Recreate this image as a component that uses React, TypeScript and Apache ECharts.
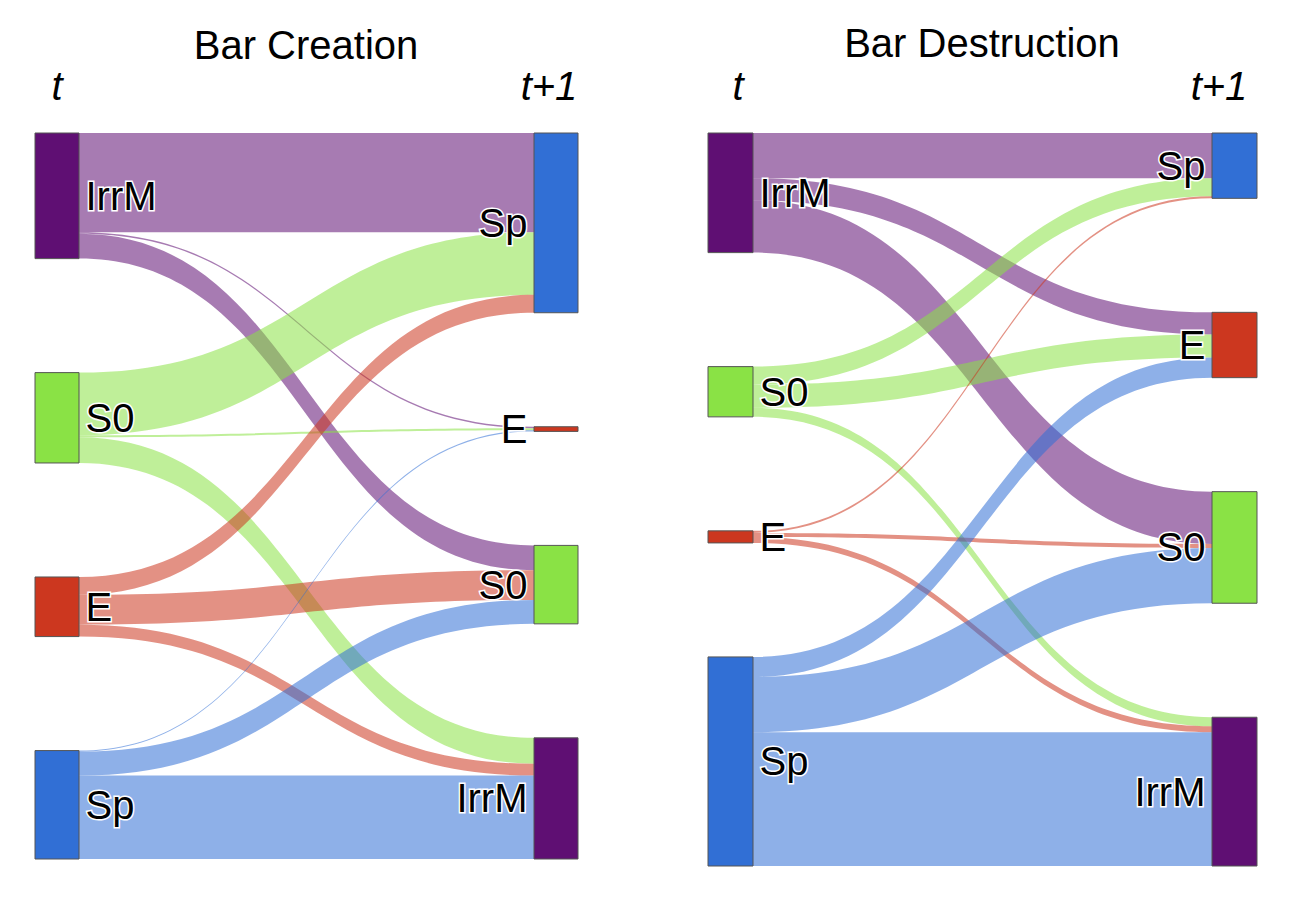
import React, { useEffect, useRef } from 'react';
import * as echarts from 'echarts';

// States in column order (top to bottom)
const statesT = ['IrrM', 'S0', 'E', 'Sp'];
const statesT1 = ['Sp', 'E', 'S0', 'IrrM'];

const stateColors: Record<string, string> = {
  IrrM: '#5f0f73',
  S0: '#8ae245',
  E: '#cc371f',
  Sp: '#316fd5',
};

// [from state at t, to state at t+1, flow]
const creationFlows: [string, string, number][] = [
  ['IrrM', 'Sp', 100], ['IrrM', 'E', 1.5], ['IrrM', 'S0', 25],
  ['S0', 'Sp', 63], ['S0', 'E', 2], ['S0', 'IrrM', 26],
  ['E', 'Sp', 18], ['E', 'S0', 30], ['E', 'IrrM', 12],
  ['Sp', 'E', 1.2], ['Sp', 'S0', 24], ['Sp', 'IrrM', 84],
];

const destructionFlows: [string, string, number][] = [
  ['IrrM', 'Sp', 45], ['IrrM', 'E', 22], ['IrrM', 'S0', 52],
  ['S0', 'Sp', 18], ['S0', 'E', 23], ['S0', 'IrrM', 9],
  ['E', 'Sp', 2], ['E', 'S0', 4], ['E', 'IrrM', 6],
  ['Sp', 'E', 20], ['Sp', 'S0', 55], ['Sp', 'IrrM', 133],
];

const titles = ['Bar Creation', 'Bar Destruction'];
const timeLabels = ['t', 't+1'];

const FONT = '"Liberation Sans", Arial, Helvetica, sans-serif';

function buildNodes() {
  return [
    ...statesT.map((s) => ({
      name: s + '@t',
      itemStyle: { color: stateColors[s] },
      label: { position: 'right', formatter: s },
    })),
    ...statesT1.map((s) => ({
      name: s + '@t1',
      itemStyle: { color: stateColors[s] },
      label: { position: 'left', formatter: s },
    })),
  ];
}

function buildLinks(flows: [string, string, number][]) {
  return flows.map(([a, b, v]) => ({ source: a + '@t', target: b + '@t1', value: v }));
}

function sankeySeries(flows: [string, string, number][], box: { left: number; top: number; width: number; height: number; nodeWidth: number }) {
  return {
    type: 'sankey',
    left: box.left,
    top: box.top,
    width: box.width,
    height: box.height,
    nodeWidth: box.nodeWidth,
    nodeGap: 114,
    layoutIterations: 0,
    draggable: false,
    emphasis: { disabled: true },
    data: buildNodes(),
    links: buildLinks(flows),
    itemStyle: { borderColor: '#555', borderWidth: 1 },
    lineStyle: { color: 'source', opacity: 0.55, curveness: 0.5 },
    label: {
      show: true,
      fontSize: 40,
      fontFamily: FONT,
      color: '#000',
      textBorderColor: '#fff',
      textBorderWidth: 3,
      distance: 6,
    },
  };
}

const textStyle = (x: number, y: number, text: string, italic = false) => ({
  type: 'text',
  x,
  y,
  style: {
    text,
    fontSize: 40,
    fontFamily: FONT,
    fontStyle: italic ? 'italic' : 'normal',
    fill: '#000',
    textAlign: 'center',
    textVerticalAlign: 'middle',
  },
});

export default function App() {
  const ref = useRef<HTMLDivElement>(null);
  useEffect(() => {
    if (!ref.current) return;
    const chart = echarts.init(ref.current, undefined, { renderer: 'svg' });
    chart.setOption({
      animation: false,
      backgroundColor: '#fff',
      graphic: [
        textStyle(306, 45, titles[0]),
        textStyle(982, 43, titles[1]),
        textStyle(57, 86, timeLabels[0], true),
        textStyle(549, 86, timeLabels[1], true),
        textStyle(738, 86, timeLabels[0], true),
        textStyle(1219, 86, timeLabels[1], true),
      ],
      series: [
        sankeySeries(creationFlows, { left: 35, top: 133, width: 543, height: 726, nodeWidth: 44 }),
        sankeySeries(destructionFlows, { left: 708, top: 133, width: 549, height: 733, nodeWidth: 45 }),
      ],
    });
    return () => chart.dispose();
  }, []);
  return (
    <div
      ref={ref}
      style={{ position: 'fixed', left: 0, top: 0, width: 1310, height: 912 }}
    />
  );
}
